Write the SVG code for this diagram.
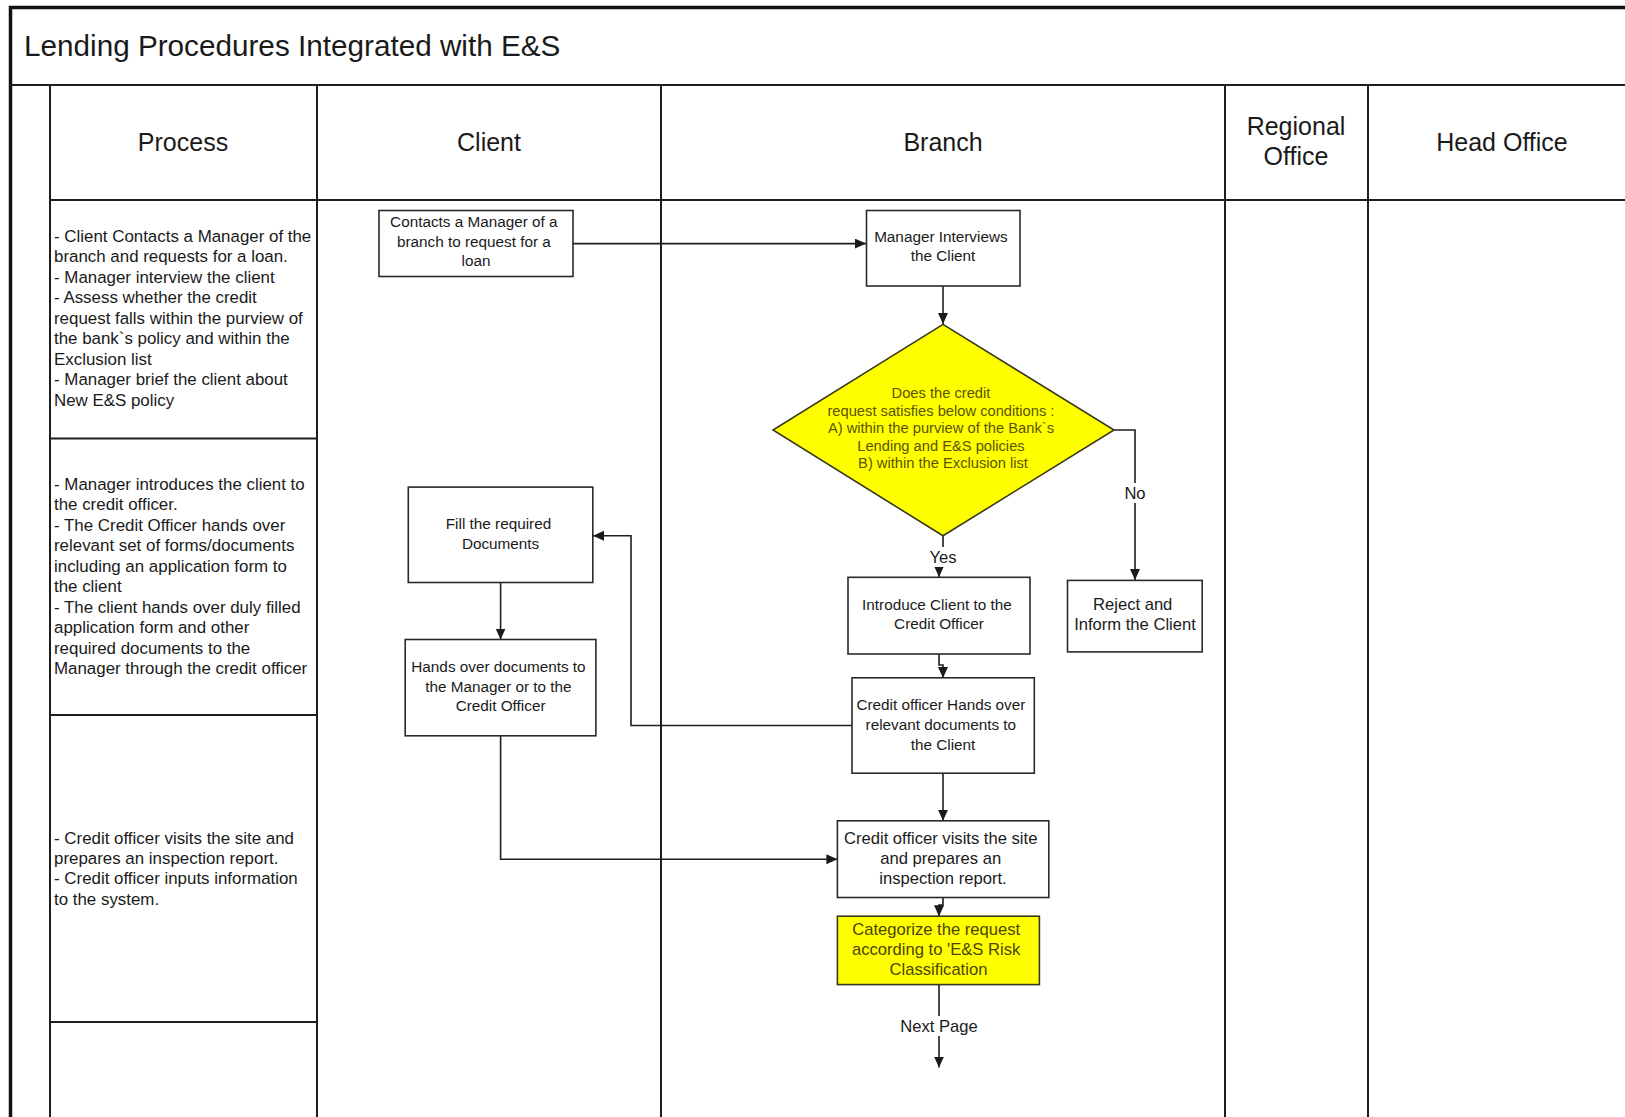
<svg xmlns="http://www.w3.org/2000/svg" width="1625" height="1117" viewBox="0 0 1625 1117">
  <style>
    .lane { stroke: #1e1e1e; stroke-width: 2; fill: none; }
    .box { fill: #ffffff; stroke: #2a2a2a; stroke-width: 1.6; }
    .hl { fill: #ffff00; stroke: #3a3a1a; stroke-width: 1.6; }
    .con { stroke: #1e1e1e; stroke-width: 1.6; fill: none; marker-end: url(#arrow); }
    .line { stroke: #1e1e1e; stroke-width: 1.6; fill: none; }
    .hdr { font-family: "Liberation Sans", Arial, sans-serif; font-size: 25px; fill: #1a1a1a; text-anchor: middle; }
    .proc { font-family: "Liberation Sans", Arial, sans-serif; font-size: 16.9px; fill: #1a1a1a; }
    .cal { font-family: "Liberation Sans", Arial, sans-serif; font-size: 15.3px; fill: #1a1a1a; text-anchor: middle; }
    .ar { font-family: "Liberation Sans", Arial, sans-serif; font-size: 16.6px; fill: #1a1a1a; text-anchor: middle; }
    .dia { font-family: "Liberation Sans", Arial, sans-serif; font-size: 14.7px; fill: #5a5300; text-anchor: middle; }
    .cat { font-family: "Liberation Sans", Arial, sans-serif; font-size: 16.6px; fill: #4a4400; text-anchor: middle; }
    .lblbg { fill: #ffffff; }
  </style>
  <defs>
    <marker id="arrow" markerUnits="userSpaceOnUse" markerWidth="12" markerHeight="11" refX="11" refY="5" orient="auto">
      <path d="M0,0 L11,5 L0,10 z" fill="#1a1a1a"/>
    </marker>
  </defs>

  <rect x="0" y="0" width="1625" height="1117" fill="#ffffff"/>

  <!-- frame, title bar and swimlanes -->
  <g id="frame">
    <path d="M10.5,1117 V7.5 H1625" stroke="#111" stroke-width="3.5" fill="none"/>
    <line x1="10" y1="85" x2="1625" y2="85" stroke="#1e1e1e" stroke-width="2.2"/>
    <text x="24" y="56" font-family="Liberation Sans, Arial, sans-serif" font-size="29.7" fill="#1a1a1a">Lending Procedures Integrated with E&amp;S</text>
  </g>

  <g id="lanes">
    <line class="lane" x1="50" y1="85" x2="50" y2="1117"/>
    <line class="lane" x1="317" y1="85" x2="317" y2="1117"/>
    <line class="lane" x1="661" y1="85" x2="661" y2="1117"/>
    <line class="lane" x1="1225" y1="85" x2="1225" y2="1117"/>
    <line class="lane" x1="1368" y1="85" x2="1368" y2="1117"/>
    <line class="lane" x1="50" y1="200" x2="1625" y2="200"/>
    <line class="lane" x1="50" y1="438.5" x2="317" y2="438.5"/>
    <line class="lane" x1="50" y1="715" x2="317" y2="715"/>
    <line class="lane" x1="50" y1="1022" x2="317" y2="1022"/>
    <text class="hdr" x="183" y="151">Process</text>
    <text class="hdr" x="489" y="151">Client</text>
    <text class="hdr" x="943" y="151">Branch</text>
    <text class="hdr" x="1296" y="134.5">Regional</text>
    <text class="hdr" x="1296" y="165">Office</text>
    <text class="hdr" x="1502" y="151">Head Office</text>
  </g>

  <!-- process descriptions -->
  <g id="process-1">
    <text class="proc" x="54" y="242">
      <tspan x="54">- Client Contacts a Manager of the</tspan>
      <tspan x="54" dy="20.45">branch and requests for a loan.</tspan>
      <tspan x="54" dy="20.45">- Manager interview the client</tspan>
      <tspan x="54" dy="20.45">- Assess whether the credit</tspan>
      <tspan x="54" dy="20.45">request falls within the purview of</tspan>
      <tspan x="54" dy="20.45">the bank`s policy and within the</tspan>
      <tspan x="54" dy="20.45">Exclusion list</tspan>
      <tspan x="54" dy="20.45">- Manager brief the client about</tspan>
      <tspan x="54" dy="20.45">New E&amp;S policy</tspan>
    </text>
  </g>
  <g id="process-2">
    <text class="proc" x="54" y="490">
      <tspan x="54">- Manager introduces the client to</tspan>
      <tspan x="54" dy="20.45">the credit officer.</tspan>
      <tspan x="54" dy="20.45">- The Credit Officer hands over</tspan>
      <tspan x="54" dy="20.45">relevant set of forms/documents</tspan>
      <tspan x="54" dy="20.45">including an application form to</tspan>
      <tspan x="54" dy="20.45">the client</tspan>
      <tspan x="54" dy="20.45">- The client hands over duly filled</tspan>
      <tspan x="54" dy="20.45">application form and other</tspan>
      <tspan x="54" dy="20.45">required documents to the</tspan>
      <tspan x="54" dy="20.45">Manager through the credit officer</tspan>
    </text>
  </g>
  <g id="process-3">
    <text class="proc" x="54" y="843.5">
      <tspan x="54">- Credit officer visits the site and</tspan>
      <tspan x="54" dy="20.45">prepares an inspection report.</tspan>
      <tspan x="54" dy="20.45">- Credit officer inputs information</tspan>
      <tspan x="54" dy="20.45">to the system.</tspan>
    </text>
  </g>

  <!-- connectors -->
  <g id="connectors">
    <path class="con" d="M573,243.6 H866"/>
    <path class="con" d="M943,286 V324"/>
    <path class="line" d="M943,536 V566 H939"/>
    <path class="con" d="M939,566 V577"/>
    <path class="con" d="M1114,430 H1135 V580"/>
    <path class="con" d="M939,654 V665 H943 V678"/>
    <path class="con" d="M852,725.5 H631 V535.8 H593"/>
    <path class="con" d="M500.6,582.5 V639.5"/>
    <path class="con" d="M500.6,735.8 V859.2 H837.4"/>
    <path class="con" d="M943,773.2 V820.8"/>
    <path class="con" d="M943,897.5 V905 H939 V916.2"/>
    <path class="con" d="M939,984.6 V1067.5"/>
    <rect class="lblbg" x="926" y="547" width="34" height="20"/>
    <text class="ar" x="943" y="562.5">Yes</text>
    <rect class="lblbg" x="1121" y="483" width="28" height="20"/>
    <text class="ar" x="1135" y="499">No</text>
    <rect class="lblbg" x="897" y="1016" width="84" height="20"/>
    <text class="ar" x="939" y="1031.8">Next Page</text>
  </g>

  <!-- nodes -->
  <g id="contact-manager">
    <rect class="box" x="379" y="210.5" width="194" height="66"/>
    <text class="cal" x="476" y="227">
      <tspan x="476">Contacts a Manager of a</tspan>
      <tspan x="476" dy="19.7">branch to request for a</tspan>
      <tspan x="476" dy="19.7">loan</tspan>
    </text>
  </g>
  <g id="manager-interviews">
    <rect class="box" x="866.5" y="210.5" width="153.5" height="75.5"/>
    <text class="cal" x="943" y="241.7">
      <tspan x="943">Manager Interviews</tspan>
      <tspan x="943" dy="19.7">the Client</tspan>
    </text>
  </g>
  <g id="decision">
    <polygon class="hl" points="943,324.4 1114,430 943,535.8 773,430"/>
    <text class="dia" x="943" y="398">
      <tspan x="943">Does the credit</tspan>
      <tspan x="943" dy="17.6">request satisfies below conditions :</tspan>
      <tspan x="943" dy="17.6">A) within the purview of the Bank`s</tspan>
      <tspan x="943" dy="17.6">Lending and E&amp;S policies</tspan>
      <tspan x="943" dy="17.6">B) within the Exclusion list</tspan>
    </text>
  </g>
  <g id="introduce-client">
    <rect class="box" x="848" y="577.3" width="182" height="76.7"/>
    <text class="cal" x="939" y="609.6">
      <tspan x="939">Introduce Client to the</tspan>
      <tspan x="939" dy="19.7">Credit Officer</tspan>
    </text>
  </g>
  <g id="reject">
    <rect class="box" x="1067.5" y="580.4" width="134.7" height="71.5"/>
    <text class="ar" x="1135" y="609.8">
      <tspan x="1135">Reject and</tspan>
      <tspan x="1135" dy="20.6">Inform the Client</tspan>
    </text>
  </g>
  <g id="hand-over-docs">
    <rect class="box" x="852" y="677.8" width="182.3" height="95.4"/>
    <text class="cal" x="943" y="710.2">
      <tspan x="943">Credit officer Hands over</tspan>
      <tspan x="943" dy="19.7">relevant documents to</tspan>
      <tspan x="943" dy="19.7">the Client</tspan>
    </text>
  </g>
  <g id="fill-documents">
    <rect class="box" x="408.3" y="487.1" width="184.5" height="95.4"/>
    <text class="cal" x="500.6" y="528.8">
      <tspan x="500.6">Fill the required</tspan>
      <tspan x="500.6" dy="19.7">Documents</tspan>
    </text>
  </g>
  <g id="client-hands-over">
    <rect class="box" x="405.2" y="639.5" width="190.7" height="96.3"/>
    <text class="cal" x="500.6" y="671.8">
      <tspan x="500.6">Hands over documents to</tspan>
      <tspan x="500.6" dy="19.7">the Manager or to the</tspan>
      <tspan x="500.6" dy="19.7">Credit Officer</tspan>
    </text>
  </g>
  <g id="site-visit">
    <rect class="box" x="837.4" y="820.8" width="211.4" height="76.7"/>
    <text class="ar" x="943" y="844.2">
      <tspan x="943">Credit officer visits the site</tspan>
      <tspan x="943" dy="19.7">and prepares an</tspan>
      <tspan x="943" dy="19.7">inspection report.</tspan>
    </text>
  </g>
  <g id="categorize">
    <rect class="hl" x="837.4" y="916.2" width="202" height="68.4"/>
    <text class="cat" x="938.5" y="935.4">
      <tspan x="938.5">Categorize the request</tspan>
      <tspan x="938.5" dy="19.7">according to 'E&amp;S Risk</tspan>
      <tspan x="938.5" dy="19.7">Classification</tspan>
    </text>
  </g>
</svg>
